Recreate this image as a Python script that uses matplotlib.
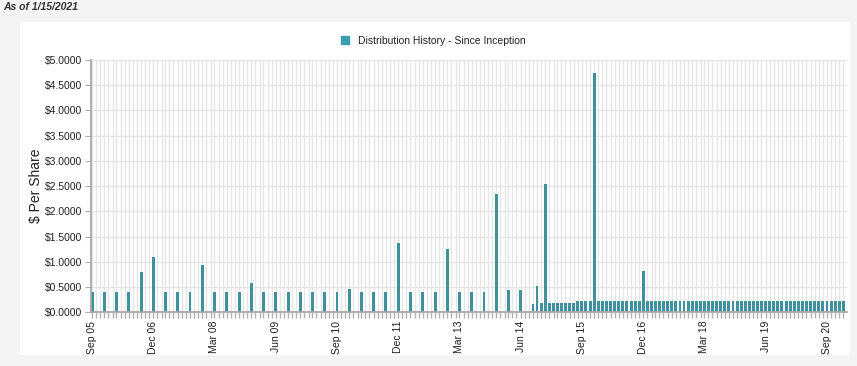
import matplotlib
matplotlib.use("Agg")
import matplotlib.pyplot as plt
import matplotlib.dates as mdates
from matplotlib.ticker import FuncFormatter, MultipleLocator, FixedLocator
from matplotlib.lines import Line2D
import pandas as pd

plt.rcParams['font.family'] = ['Liberation Sans', 'DejaVu Sans']

# quarterly distributions, Sep 2005 .. Jun 2014
quarterly_values = [
    0.40, 0.40,                     # 2005 Sep, Dec
    0.40, 0.40, 0.79, 1.09,         # 2006
    0.40, 0.40, 0.40, 0.94,         # 2007
    0.40, 0.40, 0.40, 0.58,         # 2008
    0.40, 0.40, 0.40, 0.40,         # 2009
    0.40, 0.40, 0.40, 0.46,         # 2010
    0.40, 0.40, 0.40, 1.37,         # 2011
    0.40, 0.40, 0.40, 1.25,         # 2012
    0.40, 0.40, 0.40, 2.35,         # 2013
    0.44, 0.44,                     # 2014 Mar, Jun
]
# monthly distributions, Sep 2014 .. Jan 2021
monthly_values = [
    0.165, 0.52, 0.18, 2.54,                                              # 2014 Sep-Dec
    0.18, 0.18, 0.18, 0.18, 0.18, 0.18, 0.18, 0.215, 0.215, 0.215, 0.215, 4.75,  # 2015
    0.215, 0.215, 0.215, 0.215, 0.215, 0.215, 0.215, 0.215, 0.215, 0.215, 0.215, 0.81,  # 2016
    0.215, 0.215, 0.215, 0.215, 0.215, 0.215, 0.215, 0.215, 0.215, 0.215, 0.215, 0.215,  # 2017
    0.215, 0.215, 0.215, 0.215, 0.215, 0.215, 0.215, 0.215, 0.215, 0.215, 0.215, 0.215,  # 2018
    0.215, 0.215, 0.215, 0.215, 0.215, 0.215, 0.215, 0.215, 0.215, 0.215, 0.215, 0.215,  # 2019
    0.215, 0.215, 0.215, 0.215, 0.215, 0.215, 0.215, 0.215, 0.215, 0.215, 0.215, 0.215,  # 2020
    0.215,                                                                # 2021 Jan
]
quarterly_dates = pd.date_range("2005-09-01", "2014-06-01", freq="3MS")
monthly_dates = pd.date_range("2014-09-01", "2021-01-01", freq="MS")
tick_dates = pd.date_range("2005-09-01", periods=13, freq="15MS")

dates = list(quarterly_dates) + list(monthly_dates)
values = quarterly_values + monthly_values

bar_color = '#3f919d'
grid_color = '#e6e6e6'
text_color = '#222222'

fig = plt.figure(figsize=(8.57, 3.66), dpi=100, facecolor='#f4f4f4')
# white panel
fig.patches.append(plt.Rectangle((20 / 857, 1 - 355 / 366), 830 / 857, 333 / 366,
                                 transform=fig.transFigure, facecolor='white',
                                 edgecolor='none', zorder=-10))
fig.text(3 / 857, 1 - 7 / 366, "As of 1/15/2021", fontsize=7.5, fontweight='bold',
         fontstyle='italic', color='#333333', va='center', ha='left')

ax = fig.add_axes([91 / 857, 1 - 312.3 / 366, 756 / 857, 252.3 / 366])
ax.set_facecolor('white')
ax.bar(dates, values, width=22, color=bar_color, zorder=3)

ax.set_xlim(pd.Timestamp("2005-08-24"), pd.Timestamp("2021-01-28"))
ax.set_ylim(0, 5)

ax.xaxis.set_major_locator(FixedLocator([mdates.date2num(d) for d in tick_dates]))
ax.xaxis.set_major_formatter(mdates.DateFormatter("%b %y"))
ax.xaxis.set_minor_locator(mdates.MonthLocator())
ax.yaxis.set_major_locator(MultipleLocator(0.5))
ax.yaxis.set_major_formatter(FuncFormatter(lambda v, p: "${:.4f}".format(v)))

ax.grid(True, axis='y', which='major', color=grid_color, linewidth=1, zorder=0)
ax.grid(True, axis='x', which='minor', color=grid_color, linewidth=1, zorder=0)
ax.grid(True, axis='x', which='major', color=grid_color, linewidth=1, zorder=0)

for s in ['top', 'right']:
    ax.spines[s].set_visible(False)
for s in ['bottom', 'left']:
    ax.spines[s].set_color('#a8a8a8')
    ax.spines[s].set_linewidth(1.3)
    ax.spines[s].set_zorder(4)

ax.tick_params(axis='x', which='both', length=4, color='#b0b0b0', width=1)
ax.tick_params(axis='x', which='major', labelsize=7.5, labelcolor=text_color,
               labelrotation=90, pad=2)
ax.tick_params(axis='y', which='major', length=4, color='#b0b0b0', labelsize=7.5,
               labelcolor=text_color, pad=2)

ax.set_ylabel("$ Per Share", fontsize=10, color=text_color, labelpad=2)

handle = Line2D([], [], marker='s', linestyle='none', markersize=6,
                markerfacecolor='#3a9fb3', markeredgecolor='#3a9fb3')
fig.legend([handle], ["Distribution History - Since Inception"], loc='center',
           bbox_to_anchor=(430 / 857, 1 - 41 / 366), frameon=False, fontsize=7.5,
           handletextpad=0.2, labelcolor=text_color)

fig.savefig("out.png", dpi=100, facecolor=fig.get_facecolor())
